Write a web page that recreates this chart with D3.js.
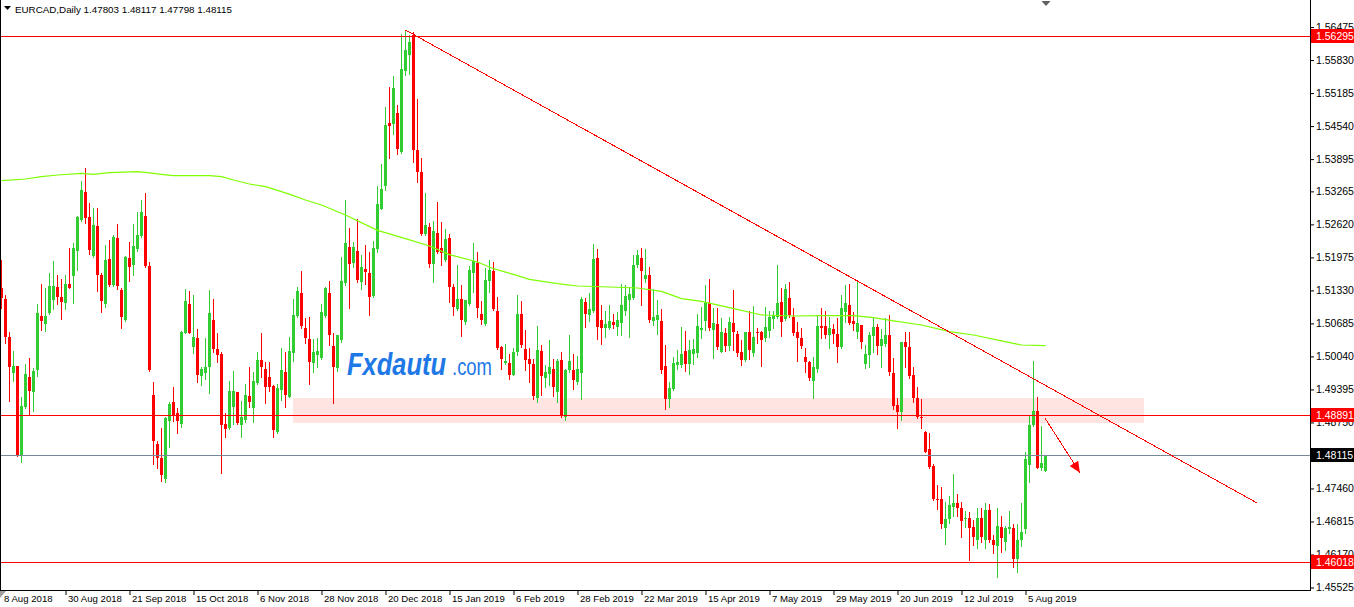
<!DOCTYPE html>
<html><head><meta charset="utf-8">
<script src="https://cdn.jsdelivr.net/npm/d3@7/dist/d3.min.js"></script>
<style>
html,body{margin:0;padding:0;background:#fff;overflow:hidden}
svg text{font-family:"Liberation Sans",Arial,sans-serif;font-size:10.5px}
</style></head><body>
<svg id="chart" width="1354" height="607"></svg>
<script>
const opens=[1.51370,1.51162,1.50426,1.49710,1.49853,1.48107,1.49058,1.49632,1.49351,1.49775,
1.50830,1.50674,1.50895,1.51143,1.51390,1.51208,1.51077,1.51455,1.51618,1.52106,
1.52706,1.53253,1.52771,1.52009,1.52588,1.51631,1.51064,1.51944,1.51436,1.52354,
1.51338,1.50752,1.51970,1.51826,1.52133,1.52393,1.52784,1.51807,1.49286,1.48329,
1.48062,1.47639,1.48785,1.49156,1.48941,1.48720,1.50504,1.51064,1.50218,1.50393,
1.49658,1.49710,1.49827,1.50752,1.50179,1.50087,1.48720,1.48642,1.49045,1.49345,
1.48700,1.48798,1.49267,1.49026,1.49514,1.49970,1.49801,1.49632,1.49462,1.48570,
1.49384,1.49736,1.49254,1.50100,1.50830,1.51286,1.50589,1.50380,1.49918,1.50068,
1.50003,1.50830,1.51286,1.50244,1.49807,1.50361,1.51468,1.52178,1.51872,1.52093,
1.51494,1.51741,1.51676,1.51220,1.52145,1.52927,1.53370,1.54607,1.54588,1.54802,
1.54034,1.55610,1.55923,1.56327,1.54066,1.53643,1.52438,1.52569,1.51852,1.52458,
1.52158,1.51917,1.52354,1.51396,1.50960,1.51168,1.50712,1.51071,1.51676,1.51872,
1.50875,1.50680,1.51507,1.51702,1.50921,1.50224,1.49918,1.49918,1.49683,1.50126,
1.50875,1.50191,1.49983,1.49898,1.49227,1.50139,1.49618,1.49703,1.49800,1.49345,
1.49963,1.48856,1.49768,1.49768,1.49540,1.49722,1.51103,1.50843,1.50921,1.51963,
1.50745,1.50595,1.50595,1.50712,1.50615,1.50699,1.50921,1.51136,1.51181,1.51833,
1.51963,1.51546,1.51624,1.50725,1.50745,1.50725,1.49853,1.49214,1.49410,1.49866,
1.49866,1.50139,1.49898,1.50094,1.50114,1.50557,1.50732,1.51078,1.50557,1.50667,
1.50133,1.50491,1.50250,1.50687,1.50478,1.50133,1.49970,1.50511,1.50101,1.50524,
1.50524,1.50394,1.50537,1.50772,1.50817,1.51110,1.50772,1.51175,1.50817,1.50524,
1.50407,1.50036,1.49938,1.49560,1.49795,1.50641,1.50641,1.50459,1.50576,1.50478,
1.50231,1.50902,1.51045,1.50732,1.50511,1.50654,1.49886,1.50068,1.50446,1.50622,
1.50250,1.50277,1.50459,1.49710,1.49091,1.48948,1.50316,1.50231,1.49677,1.49234,
1.48863,1.48570,1.48231,1.47906,1.47254,1.47254,1.46694,1.46864,1.47105,1.47170,
1.47072,1.46864,1.46890,1.46714,1.46453,1.46890,1.46453,1.47040,1.46453,1.46343,
1.46714,1.46421,1.46668,1.46681,1.46082,1.46453,1.46668,1.47919,1.48700,1.48974,
1.47854,1.47803];
const highs=[1.51924,1.51240,1.50524,1.50153,1.49860,1.49254,1.49892,1.50003,1.49807,1.51064,
1.51455,1.51370,1.51677,1.51911,1.51631,1.51546,1.51631,1.52159,1.52250,1.52784,
1.53474,1.53722,1.53044,1.52934,1.52934,1.51664,1.52217,1.52315,1.52413,1.52628,
1.51370,1.52002,1.52282,1.52628,1.52868,1.53096,1.53240,1.51892,1.49547,1.48394,
1.48635,1.48863,1.49156,1.49436,1.49026,1.50543,1.51351,1.51325,1.51240,1.50569,
1.49840,1.50393,1.51338,1.51156,1.50504,1.50133,1.48928,1.49566,1.49762,1.49351,
1.49176,1.49501,1.49840,1.49742,1.50133,1.50504,1.49938,1.49938,1.49482,1.49501,
1.50198,1.50133,1.50413,1.51156,1.51390,1.51716,1.50784,1.50804,1.50374,1.50393,
1.51064,1.51403,1.51520,1.50491,1.50459,1.51989,1.53096,1.52549,1.52275,1.52731,
1.52015,1.52210,1.52080,1.52288,1.53370,1.53806,1.54913,1.55304,1.55519,1.54959,
1.56346,1.56418,1.56327,1.56379,1.55063,1.53917,1.53239,1.52653,1.52679,1.53057,
1.52666,1.52523,1.52438,1.51461,1.51833,1.51442,1.51136,1.51806,1.52262,1.52080,
1.51116,1.51767,1.51917,1.51885,1.51201,1.50240,1.50289,1.50094,1.50204,1.51233,
1.51116,1.50549,1.50204,1.49983,1.50634,1.50269,1.49866,1.50354,1.49996,1.49983,
1.50126,1.49800,1.50465,1.50094,1.50048,1.51201,1.51181,1.51285,1.52243,1.52145,
1.51051,1.50921,1.51051,1.50875,1.50908,1.51461,1.51429,1.51396,1.52028,1.52113,
1.52158,1.52132,1.51787,1.51364,1.51136,1.50973,1.50269,1.49540,1.50028,1.50159,
1.50615,1.50530,1.50354,1.50387,1.50863,1.51012,1.51436,1.51553,1.50980,1.50980,
1.50798,1.50589,1.50817,1.51338,1.50537,1.50361,1.50511,1.50928,1.51032,1.50589,
1.50537,1.51012,1.50928,1.50928,1.51827,1.51384,1.51449,1.51488,1.50993,1.50719,
1.50589,1.50198,1.49951,1.50036,1.50837,1.50980,1.50928,1.50817,1.50667,1.50785,
1.51240,1.51436,1.51449,1.50915,1.51488,1.50660,1.50263,1.50524,1.50785,1.50667,
1.50576,1.50785,1.50850,1.50003,1.49234,1.50316,1.50524,1.50511,1.49840,1.49449,
1.49208,1.48583,1.48537,1.47932,1.47528,1.47495,1.47189,1.47320,1.47736,1.47346,
1.47189,1.47020,1.46994,1.46844,1.47085,1.47085,1.47170,1.47150,1.46551,1.47072,
1.46929,1.46733,1.47020,1.46760,1.46760,1.47170,1.48166,1.48883,1.49951,1.49254,
1.48687,1.48117];
const lows=[1.50980,1.50296,1.49176,1.49566,1.48100,1.47984,1.49026,1.48896,1.48980,1.49658,
1.50556,1.50543,1.50869,1.50960,1.51064,1.50778,1.50967,1.51370,1.51090,1.51729,
1.52693,1.52654,1.52041,1.51976,1.51325,1.50915,1.51012,1.51416,1.51423,1.51351,
1.50602,1.50739,1.51520,1.51631,1.52106,1.52380,1.51781,1.49762,1.47938,1.47853,
1.47613,1.47593,1.48277,1.48785,1.48550,1.48655,1.50491,1.50491,1.50113,1.49547,
1.49482,1.49592,1.49319,1.50133,1.49938,1.47769,1.48472,1.48616,1.48720,1.48720,
1.48472,1.48765,1.49058,1.48765,1.49501,1.49645,1.49137,1.49371,1.48472,1.48537,
1.49189,1.49045,1.49241,1.49957,1.50817,1.50589,1.50309,1.49501,1.49736,1.49827,
1.49983,1.50817,1.50263,1.49124,1.49762,1.50328,1.51436,1.50986,1.51787,1.51494,
1.51364,1.51461,1.50843,1.51201,1.52080,1.52914,1.53285,1.53917,1.54392,1.54001,
1.54021,1.55532,1.55564,1.53839,1.53448,1.52406,1.52406,1.51787,1.51494,1.52067,
1.51833,1.51898,1.51103,1.50856,1.50947,1.50439,1.50680,1.51051,1.51298,1.50810,
1.50680,1.50647,1.51298,1.50940,1.50191,1.49800,1.49898,1.49592,1.49670,1.50074,
1.50224,1.49768,1.49540,1.49214,1.49149,1.49292,1.49442,1.49475,1.49266,1.49149,
1.48856,1.48791,1.49735,1.49410,1.49507,1.49201,1.50615,1.50725,1.50908,1.50387,
1.50289,1.50419,1.50582,1.50595,1.50465,1.50452,1.50856,1.50419,1.51155,1.51787,
1.51051,1.51494,1.50712,1.50647,1.50484,1.49722,1.49019,1.49051,1.49377,1.49800,
1.49833,1.49748,1.49703,1.49898,1.50036,1.50394,1.50557,1.50557,1.50016,1.50185,
1.50120,1.50146,1.50166,1.50166,1.50055,1.49873,1.49951,1.49990,1.50055,1.50296,
1.49860,1.50342,1.50426,1.50602,1.50785,1.50446,1.50752,1.50817,1.50459,1.49951,
1.50198,1.49729,1.49580,1.49234,1.49742,1.50394,1.50394,1.50211,1.50296,1.49938,
1.50211,1.50719,1.50667,1.50557,1.50394,1.50198,1.49821,1.49840,1.50133,1.50081,
1.49840,1.50250,1.49677,1.49013,1.48635,1.48798,1.49840,1.49612,1.49156,1.48844,
1.48635,1.48166,1.47867,1.47235,1.47059,1.46694,1.46369,1.46779,1.46929,1.46929,
1.46519,1.46714,1.46063,1.46356,1.46304,1.46421,1.46291,1.46408,1.46193,1.45737,
1.46212,1.46258,1.46584,1.45932,1.45822,1.46343,1.46584,1.47593,1.48687,1.47854,
1.47821,1.47798];
const closes=[1.51175,1.50426,1.49827,1.49853,1.48107,1.49071,1.49697,1.49371,1.49762,1.50882,
1.50739,1.50830,1.51416,1.51416,1.51195,1.51110,1.51455,1.51384,1.52159,1.52758,
1.53292,1.52751,1.52119,1.52608,1.51631,1.51130,1.51924,1.51436,1.52367,1.51416,
1.50804,1.51976,1.51781,1.52198,1.52413,1.52862,1.51807,1.49775,1.48394,1.48049,
1.47723,1.48830,1.49110,1.48876,1.48785,1.50524,1.51130,1.50504,1.50413,1.49677,
1.49801,1.49827,1.50895,1.50179,1.50068,1.48700,1.48629,1.49371,1.49371,1.48733,
1.48863,1.49286,1.49156,1.49566,1.49970,1.49840,1.49449,1.49449,1.48602,1.49430,
1.49775,1.49286,1.50153,1.50849,1.51325,1.50635,1.50393,1.49938,1.50133,1.50153,
1.50908,1.51384,1.50459,1.49840,1.50459,1.51514,1.52263,1.51852,1.52178,1.51526,
1.51787,1.51689,1.51201,1.52158,1.53024,1.53317,1.54568,1.54542,1.55284,1.54099,
1.55649,1.56020,1.56183,1.54066,1.53643,1.52438,1.52614,1.51852,1.52484,1.52080,
1.52067,1.52341,1.51396,1.51005,1.51155,1.50745,1.51136,1.51722,1.51898,1.50986,
1.50745,1.51539,1.51722,1.50960,1.50204,1.49996,1.49944,1.49683,1.50126,1.50875,
1.50256,1.49963,1.49898,1.49266,1.50159,1.49657,1.49735,1.49833,1.49442,1.49944,
1.48889,1.49768,1.49944,1.49573,1.49787,1.51168,1.50875,1.50973,1.51950,1.50615,
1.50595,1.50680,1.50725,1.50647,1.50745,1.51038,1.51220,1.51266,1.51833,1.52015,
1.51702,1.51637,1.50745,1.50810,1.50843,1.49768,1.49214,1.49423,1.49918,1.49931,
1.50094,1.49898,1.50159,1.50191,1.50635,1.50602,1.51097,1.50589,1.50687,1.50231,
1.50511,1.50250,1.50719,1.50511,1.50101,1.49970,1.50511,1.50166,1.50426,1.50504,
1.50361,1.50622,1.50817,1.50850,1.51078,1.50719,1.51358,1.50850,1.50491,1.50394,
1.50250,1.49938,1.49612,1.49840,1.50641,1.50602,1.50459,1.50602,1.50478,1.50231,
1.50993,1.51078,1.50687,1.50667,1.50687,1.50329,1.50081,1.50459,1.50622,1.50250,
1.50381,1.50459,1.49729,1.49078,1.48948,1.50316,1.50231,1.49664,1.49234,1.48863,
1.48831,1.48179,1.47886,1.47254,1.47235,1.46760,1.46864,1.47137,1.47170,1.47072,
1.46825,1.46890,1.46694,1.46519,1.46890,1.46519,1.47040,1.46453,1.46356,1.46733,
1.46499,1.46694,1.46714,1.46082,1.46453,1.46616,1.48036,1.48700,1.48974,1.47867,
1.47951,1.48115];

const maBars=[0,6,10,14,20,23,27,34,36,40,43,52,55,58,62,66,70,73,76,80,83,86,94,101,107,112,119,123,128,132,139,144,152,159,165,170,175,182,190,198,205,213,218,223,230,237,243,250,255,261];
const maValues=[1.53474,1.53507,1.53552,1.53585,1.53617,1.53598,1.53631,1.53650,1.53637,1.53598,1.53572,1.53572,1.53552,1.53487,1.53409,1.53357,1.53259,1.53181,1.53096,1.52999,1.52901,1.52803,1.52503,1.52341,1.52197,1.52028,1.51885,1.51754,1.51644,1.51546,1.51461,1.51416,1.51396,1.51377,1.51312,1.51168,1.51116,1.50993,1.50850,1.50830,1.50837,1.50837,1.50798,1.50733,1.50654,1.50524,1.50459,1.50342,1.50263,1.50250];

const dateLabels=["8 Aug 2018","30 Aug 2018","21 Sep 2018","15 Oct 2018","6 Nov 2018","28 Nov 2018","20 Dec 2018","15 Jan 2019","6 Feb 2019","28 Feb 2019","22 Mar 2019","15 Apr 2019","7 May 2019","29 May 2019","20 Jun 2019","12 Jul 2019","5 Aug 2019"];
const dateLabelBars=[0,16,32,48,64,80,96,112,128,144,160,176,192,208,224,240,256];
const priceTicks=[1.56475,1.55830,1.55185,1.54540,1.53895,1.53265,1.52620,1.51975,1.51330,1.50685,1.50040,1.49395,1.48750,1.47460,1.46815,1.46170,1.45525];
const levelLines=[1.56295,1.48891,1.46018];
const bidPrice=1.48115;
const trendBars=[101,313.9], trendPrices=[1.56418,1.47176];
const arrowBars=[260.9,269.6], arrowPrices=[1.48831,1.47768];
const zoneBars=[72.9,285.6], zonePrices=[1.49227,1.48739];
const symbolTitle="EURCAD,Daily";
const titleValues=[1.47803,1.48117,1.47798,1.48115];

const W=1354,H=607,plotR=1310,plotB=590;
const svg=d3.select("#chart");
svg.append("rect").attr("width",W).attr("height",H).attr("fill","#fff");
const x=d3.scaleLinear().domain([0,100]).range([1.5,401.5]);
const y=d3.scaleLinear().domain([1.45476,1.57004]).range([plotB,0]);
const fmt=d3.format(".5f");

svg.append("defs").append("clipPath").attr("id","clip").append("rect").attr("x",0).attr("y",0).attr("width",plotR).attr("height",plotB);
const plot=svg.append("g").attr("clip-path","url(#clip)");

// support zone
plot.append("rect").attr("x",Math.round(x(zoneBars[0]))).attr("y",Math.round(y(zonePrices[0])))
  .attr("width",Math.round(x(zoneBars[1]))-Math.round(x(zoneBars[0])))
  .attr("height",Math.round(y(zonePrices[1]))-Math.round(y(zonePrices[0])))
  .attr("fill","#FFE4E1");

// candles
const data=opens.map((o,i)=>({i,o,h:highs[i],l:lows[i],c:closes[i]}));
const cg=plot.append("g").attr("shape-rendering","crispEdges");
const cs=cg.selectAll("g").data(data).join("g").attr("fill",d=>d.c>=d.o?"#32CD32":"#FF0000");
cs.append("rect").attr("x",d=>Math.floor(x(d.i))).attr("width",1)
  .attr("y",d=>Math.round(y(d.h))).attr("height",d=>Math.max(1,Math.round(y(d.l))-Math.round(y(d.h))+1));
cs.append("rect").attr("x",d=>Math.floor(x(d.i))-1).attr("width",3)
  .attr("y",d=>Math.round(y(Math.max(d.o,d.c))))
  .attr("height",d=>Math.max(1,Math.round(y(Math.min(d.o,d.c)))-Math.round(y(Math.max(d.o,d.c)))));

// moving average
plot.append("path").datum(maBars.map((b,i)=>[b,maValues[i]]))
  .attr("d",d3.line().x(d=>x(d[0])).y(d=>y(d[1])))
  .attr("fill","none").attr("stroke","#7FFF00").attr("stroke-width",1.2);

// horizontal levels
plot.selectAll("line.lvl").data(levelLines).join("line").attr("class","lvl")
  .attr("x1",0).attr("x2",plotR).attr("y1",d=>Math.round(y(d))+0.5).attr("y2",d=>Math.round(y(d))+0.5)
  .attr("stroke","#FF0000").attr("stroke-width",1);
plot.append("line").attr("x1",0).attr("x2",plotR).attr("y1",Math.round(y(bidPrice))+0.5).attr("y2",Math.round(y(bidPrice))+0.5)
  .attr("stroke","#778899").attr("stroke-width",1);

// trend line
plot.append("line").attr("x1",x(trendBars[0])).attr("y1",y(trendPrices[0])).attr("x2",x(trendBars[1])).attr("y2",y(trendPrices[1]))
  .attr("stroke","#FF0000").attr("stroke-width",1).attr("shape-rendering","crispEdges");

// arrow
const ax1=x(arrowBars[0]),ay1=y(arrowPrices[0]),ax2=x(arrowBars[1]),ay2=y(arrowPrices[1]);
plot.append("line").attr("x1",ax1).attr("y1",ay1).attr("x2",ax2).attr("y2",ay2).attr("stroke","#FF0000").attr("stroke-width",1).attr("shape-rendering","crispEdges");
const ang=Math.atan2(ay2-ay1,ax2-ax1),hl=11,hw=5;
const bx=ax2-hl*Math.cos(ang),by=ay2-hl*Math.sin(ang);
plot.append("path").attr("d",`M${ax2},${ay2}L${bx+hw*Math.sin(ang)},${by-hw*Math.cos(ang)}L${bx-hw*Math.sin(ang)},${by+hw*Math.cos(ang)}Z`).attr("fill","#FF0000");

// watermark
const wm=svg.append("g").attr("fill","#1E78E6");
wm.append("text").attr("x",347).attr("y",375).style("font-size","31px").attr("font-weight","bold").attr("font-style","italic")
  .attr("textLength",99).attr("lengthAdjust","spacingAndGlyphs").text("Fxdautu");
wm.append("text").attr("x",452).attr("y",375).style("font-size","23px").attr("textLength",40).attr("lengthAdjust","spacingAndGlyphs").text(".com");

// frame
svg.append("g").attr("shape-rendering","crispEdges").attr("stroke","#000").call(g=>{
  g.append("line").attr("x1",0.5).attr("x2",0.5).attr("y1",0).attr("y2",plotB);
  g.append("line").attr("x1",0).attr("x2",plotR+1).attr("y1",plotB+0.5).attr("y2",plotB+0.5);
  g.append("line").attr("x1",plotR+0.5).attr("x2",plotR+0.5).attr("y1",0).attr("y2",plotB+1);
});

// right price axis
const ra=svg.append("g").attr("transform",`translate(${plotR},0)`)
  .call(d3.axisRight(y).tickValues(priceTicks).tickFormat(fmt).tickSize(4).tickPadding(2));
ra.select(".domain").remove();
ra.selectAll("text").attr("fill","#000").style("font-size","10.5px").style("font-family","Liberation Sans, Arial, sans-serif");
ra.selectAll("line").attr("stroke","#000");

// level price boxes
const boxes=levelLines.map(p=>({p,bg:"#FF0000"})).concat([{p:bidPrice,bg:"#000000"}]);
const bxg=svg.append("g").selectAll("g").data(boxes).join("g").attr("transform",d=>`translate(${plotR+1},${Math.round(y(d.p))})`);
bxg.append("rect").attr("x",0).attr("y",-7).attr("width",W-plotR-1).attr("height",14).attr("fill",d=>d.bg);
bxg.append("text").attr("x",5).attr("y",4).attr("fill","#fff").text(d=>fmt(d.p));

// bottom time axis
const ba=svg.append("g").attr("transform",`translate(0,${plotB})`)
  .call(d3.axisBottom(x).tickValues(dateLabelBars).tickFormat((d,i)=>dateLabels[i]).tickSize(5).tickPadding(2));
ba.select(".domain").remove();
ba.selectAll("line").attr("stroke","#000");
ba.selectAll("text").attr("text-anchor","start").attr("dx",2).attr("dy","0.55em").attr("fill","#000")
  .style("font-size","9.6px").style("font-family","Liberation Sans, Arial, sans-serif");

// small corner and shift markers
svg.append("path").attr("d","M0,591L6,591L0,598Z").attr("fill","#A0A0A0");
const sx=Math.floor(x(opens.length-1))+0.5;
svg.append("path").attr("d",`M${sx-4},1L${sx+5},1L${sx+0.5},6Z`).attr("fill","#606060");

// title
svg.append("path").attr("d","M4,6L11,6L7.5,10Z").attr("fill","#000");
svg.append("text").attr("x",15).attr("y",13).attr("fill","#000").style("font-size","9.8px")
  .text(symbolTitle+"  "+titleValues.map(fmt).join(" "));
</script>
</body></html>
